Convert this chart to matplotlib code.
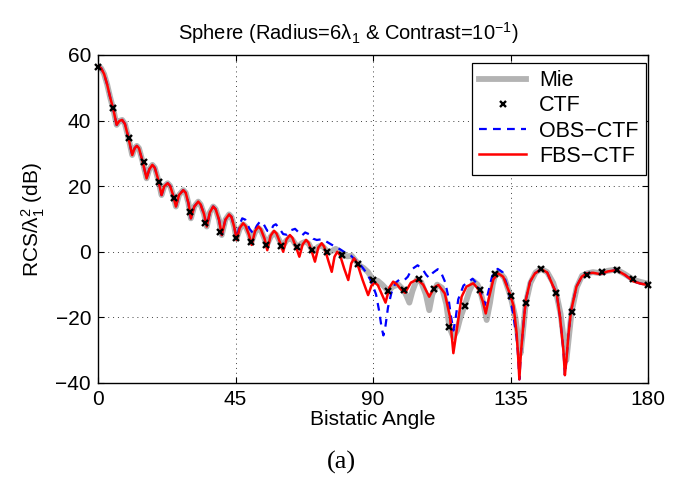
import matplotlib
matplotlib.use("Agg")
import matplotlib.pyplot as plt
from matplotlib.lines import Line2D

plt.rcParams["font.family"] = ["Liberation Sans", "DejaVu Sans"]
plt.rcParams["mathtext.fontset"] = "custom"
plt.rcParams["mathtext.rm"] = "Liberation Sans"
plt.rcParams["mathtext.it"] = "Liberation Sans:italic"

# Main lobe, identical for all solvers up to ~45 degrees
angle_near = [0.0, 1.0, 2.0, 3.0, 4.0, 5.0, 6.1, 7.0, 7.9, 8.8, 9.9, 11.2, 12.0, 12.7,
              13.4, 14.6, 15.9, 16.8, 17.8, 18.6, 19.7, 20.8, 21.7, 22.8, 23.6, 24.6,
              25.5, 26.5, 27.9, 28.7, 29.6, 30.4, 31.5, 32.8, 33.6, 34.7, 35.6, 36.6,
              37.7, 38.5, 39.6, 40.5, 41.7, 42.9, 43.7, 44.6]
rcs_near = [56.6, 56.0, 54.2, 51.0, 47.0, 43.5, 38.7, 39.9, 40.2, 39.0, 35.0, 29.5, 31.6,
            32.3, 31.6, 27.5, 22.4, 25.2, 26.5, 25.6, 22.0, 17.3, 20.0, 20.9, 20.1, 17.2,
            13.8, 17.3, 18.8, 18.0, 14.8, 10.2, 13.8, 15.3, 14.4, 11.5, 7.7, 12.0, 13.8,
            13.0, 9.8, 5.1, 9.8, 11.4, 10.6, 7.5]

# FBS-CTF beyond 45 degrees
angle_fbs_far = [45.4, 46.4, 47.5, 48.3, 49.4, 50.3, 51.4, 52.5, 53.3, 54.5, 55.4, 56.5,
                 57.6, 58.4, 59.6, 60.6, 61.7, 62.8, 63.6, 64.9, 65.9, 67.0, 68.1, 68.9,
                 70.1, 71.0, 72.1, 73.2, 74.0, 75.4, 76.5, 77.4, 78.3, 79.2, 80.6, 81.9,
                 82.9, 83.8, 84.8, 86.6, 88.4, 89.5, 90.6, 91.6, 92.9, 94.1, 95.4, 96.6,
                 97.8, 99.2, 100.5, 102.4, 104.5, 106.4, 108.4, 110.0, 111.4, 113.5, 115.2,
                 115.9, 116.3, 117.4, 119.0, 120.6, 122.8, 124.6, 125.9, 126.9, 127.9,
                 129.4, 131.0, 132.6, 134.8, 136.0, 137.0, 137.5, 137.9, 138.4, 139.0,
                 140.0, 141.4, 143.0, 145.0, 147.0, 149.0, 150.1, 151.2, 152.3, 152.8,
                 153.3, 153.9, 154.8, 156.6, 158.3, 159.9, 162.0, 164.3, 166.8, 169.7,
                 172.4, 175.2, 177.6, 180.0]
rcs_fbs_far = [3.6, 7.3, 8.7, 7.9, 5.2, 2.1, 6.3, 7.7, 6.9, 4.0, 0.5, 4.9,
               6.4, 5.6, 2.8, 0.0, 3.8, 5.1, 4.3, 1.2, -1.5, 2.3, 3.6, 2.8,
               -0.3, -3.0, 1.3, 2.6, 1.6, -2.8, -6.1, -1.5, 0.0, -1.0, -5.2, -8.6,
               -3.5, -2.0, -3.4, -8.6, -13.2, -10.3, -9.4, -10.2, -13.0, -15.5, -10.8, -9.1,
               -9.9, -11.5, -12.5, -9.4, -8.4, -10.0, -13.7, -10.9, -10.1, -12.7, -19.8,
               -26.9, -30.9, -23.8, -13.7, -10.6, -9.6, -11.5, -15.0, -18.8, -14.2,
               -8.4, -6.6, -7.6, -12.8, -16.5, -24.8, -32.0, -38.9, -31.0, -24.5,
               -14.7, -9.1, -6.6, -5.3, -6.3, -10.6, -12.7, -19.8, -29.9, -37.6,
               -33.0, -25.9, -18.1, -10.6, -7.6, -6.6, -6.4, -6.8, -6.0, -5.6,
               -7.0, -9.0, -9.7, -10.1]

# Mie series beyond 45 degrees
angle_mie_far = [45.3, 46.4, 47.5, 48.3, 49.4, 50.2, 51.4, 52.5, 53.3, 54.4, 55.2, 56.5,
                 57.6, 58.4, 59.5, 60.3, 61.6, 62.8, 63.7, 64.8, 65.5, 66.7, 68.0, 69.0,
                 70.0, 70.8, 72.0, 73.2, 74.2, 75.2, 76.4, 77.8, 79.0, 80.2, 81.6, 83.0,
                 84.2, 85.6, 87.0, 88.4, 90.0, 91.5, 93.0, 95.0, 96.5, 98.3, 100.0, 101.0,
                 101.9, 102.9, 104.3, 105.8, 107.3, 108.4, 109.4, 111.0, 112.6, 114.0,
                 115.0, 116.3, 117.5, 118.6, 120.0, 121.5, 123.0, 124.2, 125.0, 126.2,
                 127.2, 128.3, 129.2, 130.0, 131.4, 133.0, 135.0, 136.6, 137.6, 138.3,
                 139.0, 140.0, 141.5, 143.2, 145.0, 147.0, 149.0, 150.0, 151.4, 152.5,
                 153.3, 154.1, 155.0, 156.7, 158.4, 160.0, 162.0, 164.3, 166.8, 169.7,
                 172.4, 175.2, 177.6, 180.0]
rcs_mie_far = [4.0, 7.0, 8.4, 7.7, 5.5, 2.9, 6.0, 7.3, 6.6, 4.2, 1.9, 4.6,
               5.8, 5.2, 3.2, 1.4, 3.4, 4.3, 3.6, 2.0, 1.5, 2.6, 3.1, 2.4,
               0.6, 0.3, 1.5, 2.0, 1.0, -0.1, 0.2, 0.9, 0.2, -1.1, -1.4, -1.2,
               -2.6, -4.2, -5.0, -6.2, -8.6, -8.8, -10.0, -12.0, -10.6, -10.0, -11.6, -13.5,
               -15.5, -12.0, -8.5, -9.3, -13.0, -17.8, -13.0, -10.0, -11.0, -16.0,
               -23.0, -26.0, -24.0, -20.0, -16.5, -12.0, -9.0, -10.0, -11.6, -16.0,
               -20.8, -15.5, -10.0, -6.9, -6.2, -8.0, -13.5, -20.0, -27.0, -31.0,
               -25.0, -15.7, -9.5, -6.3, -5.2, -6.2, -9.5, -12.7, -19.0, -27.0,
               -33.0, -26.0, -18.3, -10.8, -7.3, -6.6, -6.2, -6.5, -5.8, -5.4,
               -6.8, -8.5, -9.2, -9.7]

# OBS-CTF where it departs from FBS-CTF (45 to 137 degrees)
angle_obs_mid = [45.4, 46.4, 47.2, 48.2, 49.6, 50.8, 52.0, 53.0, 54.0, 55.4, 56.4, 57.4,
                 58.2, 59.3, 60.6, 61.8, 63.2, 64.5, 65.8, 66.8, 67.8, 69.0, 70.4, 71.6,
                 73.0, 74.6, 76.4, 78.0, 79.5, 81.0, 82.8, 84.6, 86.4, 88.0, 89.6, 91.0,
                 92.0, 92.8, 93.4, 94.1, 94.9, 96.0, 97.4, 98.8, 100.3, 101.4, 102.6,
                 104.6, 106.3, 107.4, 108.3, 109.6, 111.2, 112.4, 113.6, 114.6, 115.5,
                 116.3, 117.0, 117.9, 119.6, 122.6, 124.4, 125.6, 126.6, 127.6, 129.0,
                 130.8, 132.4, 134.2, 135.8, 137.0]
rcs_obs_mid = [4.0, 8.4, 10.2, 9.8, 7.0, 5.6, 8.0, 9.2, 8.8, 6.4, 6.2, 8.0,
               8.4, 7.2, 5.4, 5.2, 6.6, 7.0, 5.8, 5.0, 5.9, 5.4, 4.0, 3.6,
               3.8, 3.2, 2.2, 1.4, 0.6, -0.3, -1.2, -2.8, -4.6, -6.6, -9.4, -13.0,
               -18.0, -23.0, -25.5, -22.5, -17.0, -12.6, -9.4, -8.4, -8.6, -7.6, -5.4,
               -4.1, -5.4, -7.0, -7.9, -6.4, -5.3, -6.6, -9.2, -13.5, -19.5,
               -24.0, -20.5, -14.5, -10.3, -8.2, -10.2, -13.5, -16.2, -12.8, -7.4,
               -5.2, -6.2, -11.0, -18.5, -26.0]

# CTF samples every 5 degrees
angle_ctf = [0, 5, 10, 15, 20, 25, 30, 35, 40, 45, 50, 55, 60, 65, 70, 75, 80, 85, 90,
             95, 100, 105, 110, 115, 120, 125, 130, 135, 140, 145, 150, 155, 160, 165,
             170, 175, 180]
rcs_ctf = [56.4, 43.8, 34.6, 27.3, 21.4, 16.3, 12.2, 8.7, 6.1, 4.2, 3.1, 2.1, 1.8, 1.6,
           0.5, 0.0, -1.0, -3.7, -8.6, -12.0, -11.6, -8.4, -11.4, -23.0, -16.5, -11.6,
           -6.9, -13.5, -15.7, -5.2, -12.7, -18.3, -7.1, -6.3, -5.5, -8.4, -10.1]


def grafRCS():
    fig = plt.figure(figsize=(6.88, 4.82), dpi=100)
    ax = fig.add_axes([98 / 688, 1 - 383 / 482, 550 / 688, 328 / 482])

    angle_fbs = angle_near + angle_fbs_far
    rcs_fbs = rcs_near + rcs_fbs_far
    angle_mie = angle_near + angle_mie_far
    rcs_mie = rcs_near + rcs_mie_far
    # OBS-CTF joins FBS-CTF again after the last mid point
    tail = [(a, r) for a, r in zip(angle_fbs_far, rcs_fbs_far) if a > angle_obs_mid[-1]]
    angle_obs = angle_near + angle_obs_mid + [a for a, r in tail]
    rcs_obs = rcs_near + rcs_obs_mid + [r for a, r in tail]

    ax.plot(angle_mie, rcs_mie, color="#b3b3b3", linewidth=4.2, zorder=1,
            solid_joinstyle="round")
    ax.plot(angle_obs, rcs_obs, color="blue", linewidth=1.6,
            linestyle=(0, (3.5, 2.8)), zorder=2)
    ax.plot(angle_fbs, rcs_fbs, color="red", linewidth=1.8, zorder=3,
            solid_joinstyle="round")
    ax.plot(angle_ctf, rcs_ctf, linestyle="none", marker="x", color="black",
            markersize=5, markeredgewidth=1.7, zorder=4, clip_on=False)

    ax.set_xlim(0, 180)
    ax.set_ylim(-40, 60)
    ax.set_xticks([0, 45, 90, 135, 180])
    ax.set_yticks([-40, -20, 0, 20, 40, 60])
    ax.tick_params(direction="in", length=4.5, width=0.8, labelsize=15,
                   top=True, right=True, pad=5)
    ax.grid(True, color="0.25", linestyle=(0, (1, 4)), linewidth=0.7)
    for s in ax.spines.values():
        s.set_linewidth(1.0)

    # Títulos e rótulos
    ax.set_title("Sphere (Radius=6λ$_1$ & Contrast=10$^{-1}$)", fontsize=14.5,
                 x=(348 - 98) / 550, pad=11)
    ax.set_xlabel("Bistatic Angle", fontsize=15, labelpad=1)
    ax.set_ylabel("RCS/λ$_1^2$ (dB)", fontsize=15, labelpad=6)

    handles = [
        Line2D([], [], color="#b3b3b3", linewidth=4.2),
        Line2D([], [], linestyle="none", marker="x", color="black",
               markersize=5, markeredgewidth=1.7),
        Line2D([], [], color="blue", linewidth=1.6, linestyle=(0, (3.5, 2.8))),
        Line2D([], [], color="red", linewidth=1.8),
    ]
    leg = ax.legend(handles, ["Mie", "CTF", "OBS−CTF", "FBS−CTF"],
                    loc="upper right", bbox_to_anchor=(0.997, 0.977),
                    borderaxespad=0, fontsize=15.5, fancybox=False, framealpha=1,
                    edgecolor="black", handlelength=2.2, handletextpad=0.6,
                    labelspacing=0.2, borderpad=0.35)
    leg.get_frame().set_linewidth(0.9)

    fig.text(0.497, 0.04, "(a)", fontsize=19, family="Liberation Serif",
             ha="center", va="center")

    fig.savefig("out.png", dpi=100)


def main():
    grafRCS()


main()
